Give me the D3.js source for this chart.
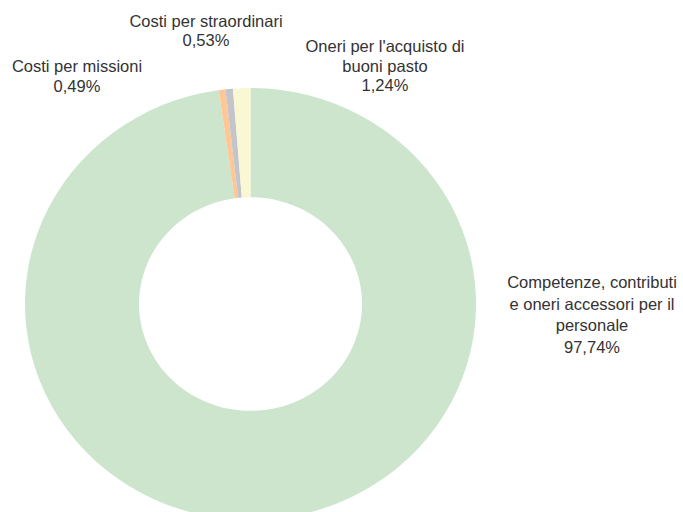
<!DOCTYPE html>
<html><head><meta charset="utf-8">
<script src="https://cdn.jsdelivr.net/npm/d3@7"></script>
<style>body{margin:0;background:#fff}svg{display:block}</style>
</head><body>
<svg id="c" width="683" height="512"></svg>
<script>
const categories = ["Competenze, contributi e oneri accessori per il personale", "Costi per missioni", "Costi per straordinari", "Oneri per l'acquisto di buoni pasto"];
const values = [97.74, 0.49, 0.53, 1.24];
const valueLabels = ["97,74%", "0,49%", "0,53%", "1,24%"];
const labelLines = [
  ["Competenze, contributi", "e oneri accessori per il", "personale"],
  ["Costi per missioni"],
  ["Costi per straordinari"],
  ["Oneri per l'acquisto di", "buoni pasto"]
];
const colors = ["#cce5cc", "#fdc796", "#c4c4cc", "#f9f8d2"];

const svg = d3.select("#c");
const cx = 250.5, cy = 304, R = 225.5, r = 111.5, sy = 0.958;
const pie = d3.pie().sort(null).value(d => d)(values);
const arc = d3.arc().innerRadius(r).outerRadius(R);
const g = svg.append("g").attr("transform", `translate(${cx},${cy}) scale(1,${sy})`);
g.selectAll("path").data(pie).join("path")
  .attr("d", arc).attr("fill", (d, i) => colors[i]);

// label layout (center x, first baseline, line height)
const layout = [
  {x: 592, y: 288, lh: 21.5},
  {x: 77, y: 72, lh: 20},
  {x: 206, y: 27, lh: 19},
  {x: 385, y: 52, lh: 19.5}
];
pie.forEach((d, i) => {
  const L = layout[i];
  const lines = labelLines[i].concat([valueLabels[i]]);
  const t = svg.append("text").attr("text-anchor", "middle")
    .attr("font-family", "Liberation Sans, Arial, sans-serif")
    .attr("font-size", 16.5).attr("fill", "#333");
  lines.forEach((s, k) => t.append("tspan").attr("x", L.x).attr("y", L.y + k * L.lh).text(s));
});
</script>
</body></html>
